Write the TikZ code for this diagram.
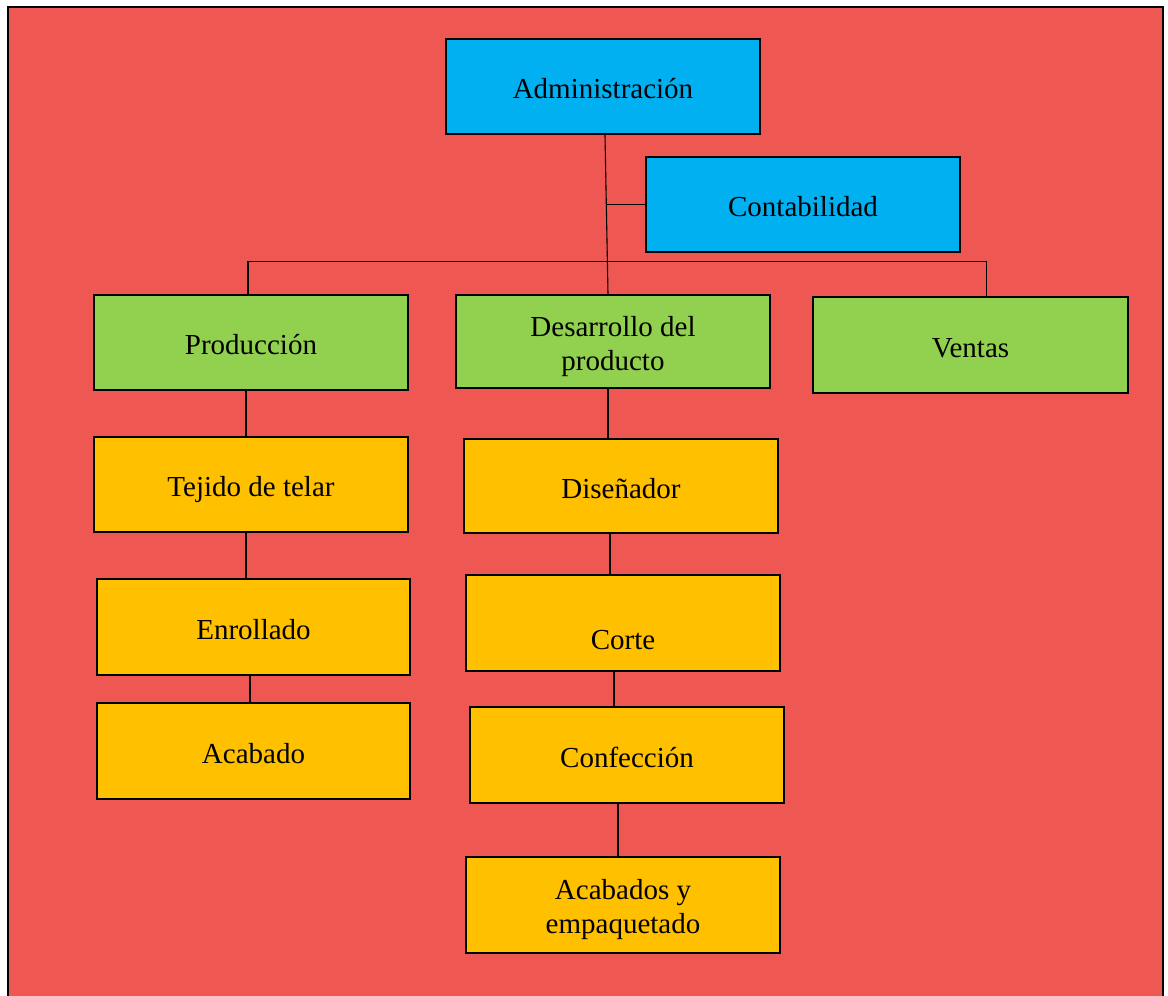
\documentclass[tikz,border=0pt]{standalone}
\usepackage{fontspec}
\setmainfont{Liberation Serif}
\usepackage{tikz}
\usetikzlibrary{positioning,calc}
\definecolor{orgred}{HTML}{EF5753}
\definecolor{orgblue}{HTML}{00B0F0}
\definecolor{orggreen}{HTML}{92D050}
\definecolor{orgorange}{HTML}{FFC000}

\begin{document}
\begin{tikzpicture}[
    x=0.5pt,y=-0.5pt,
    box/.style    = {rectangle, draw=black, line width=1.1pt, align=center,
                     font=\fontsize{14.5}{17}\selectfont,
                     text height=15pt, text depth=3pt,
                     minimum width=157pt, minimum height=47.5pt, inner sep=2pt},
    twoline/.style = {text height=31.5pt, text depth=3pt},
    bbox/.style   = {box, fill=orgblue},
    gbox/.style   = {box, fill=orggreen},
    obox/.style   = {box, fill=orgorange},
    link/.style   = {black, line width=0.55pt},
  ]

  \useasboundingbox (0,0) rectangle (1168,996);

  % Fondo y marco
  \fill[white] (0,0) rectangle (1168,996);
  \fill[orgred] (8,7) rectangle (1163,996);
  \draw[line width=1.3pt] (8,996) -- (8,7) -- (1163,7) -- (1163,996);

  % Direccion
  \node[bbox] (admin) at (603,86.5)  {Administración};
  \node[bbox] (conta) at (803,204.5) {Contabilidad};

  % Departamentos
  \node[gbox] (prod)   at (251,342.5)   {Producción};
  \node[gbox, twoline, minimum height=46.5pt] (desa) at (613,341.5) {Desarrollo del\\producto};
  \node[gbox, minimum width=157.5pt, minimum height=48pt] (ventas) at (970.5,345) {Ventas};

  % Columna de produccion
  \node[obox] (tejido) at (251,484.5)   {Tejido de telar};
  \node[obox, minimum width=156.5pt, minimum height=48pt] (enroll) at (253.5,627) {Enrollado};
  \node[obox, minimum width=156.5pt, minimum height=48pt] (acab)   at (253.5,751) {Acabado};

  % Columna de desarrollo
  \node[obox, minimum height=47pt] (disen) at (621,486) {Diseñador};
  \node[obox, minimum height=48pt, label={[font=\fontsize{14.5}{17}\selectfont,
        text height=15pt, text depth=3pt, yshift=-7pt]center:Corte}] (corte) at (623,623) {};
  \node[obox, minimum height=48pt] (conf)    at (627,755) {Confección};
  \node[obox, twoline, minimum height=48pt] (acabemp) at (623,905) {Acabados y\\empaquetado};

  % Conectores
  \draw[link] ([xshift=1pt]admin.south) -- ([xshift=-2.5pt]desa.north);
  \draw[link] (conta.west) -- ++(-39,0);
  \draw[link] ([xshift=-1.5pt]prod.north) -- ++(0,-32) -| ([xshift=8pt]ventas.north);

  \draw[link] ([xshift=-2.5pt]prod.south)   -- ([xshift=-2.5pt]tejido.north);
  \draw[link] ([xshift=-2.5pt]tejido.south) -- ([xshift=-3.75pt]enroll.north);
  \draw[link] ([xshift=-1.75pt]enroll.south) -- ([xshift=-1.75pt]acab.north);

  \draw[link] ([xshift=-2.5pt]desa.south)  -- ([xshift=-6.5pt]disen.north);
  \draw[link] ([xshift=-5.5pt]disen.south) -- ([xshift=-6.5pt]corte.north);
  \draw[link] ([xshift=-4.5pt]corte.south) -- ([xshift=-6.5pt]conf.north);
  \draw[link] ([xshift=-4.5pt]conf.south)  -- ([xshift=-2.5pt]acabemp.north);

\end{tikzpicture}
\end{document}
